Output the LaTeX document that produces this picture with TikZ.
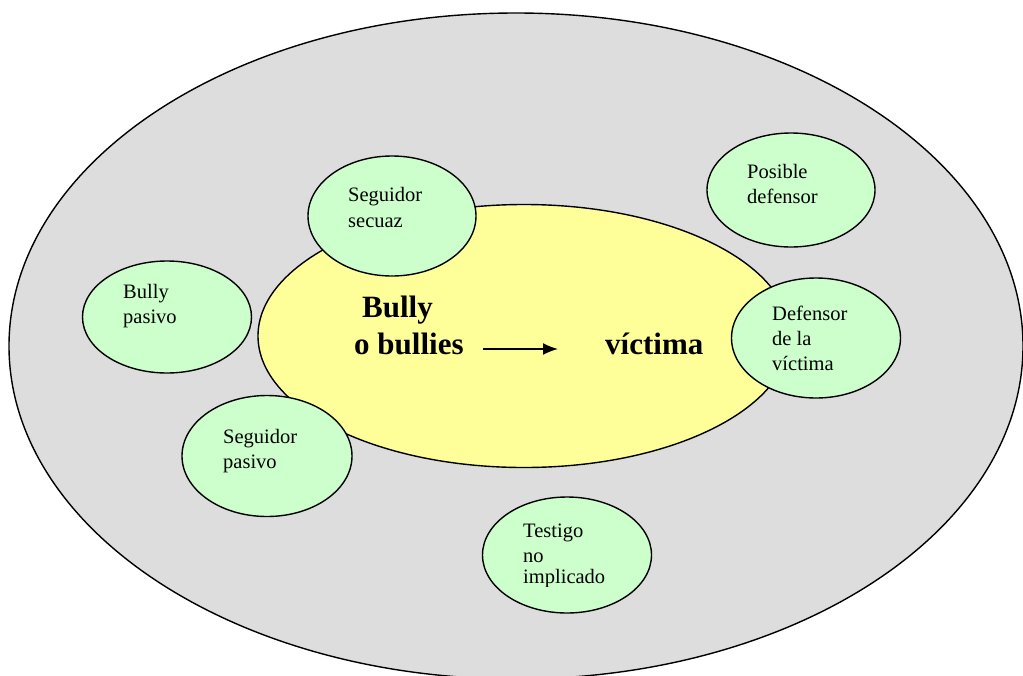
\documentclass[tikz,border=0pt]{standalone}
\usepackage{fontspec}
\setmainfont{Liberation Serif}
\usetikzlibrary{shapes.geometric,arrows.meta}
\definecolor{outerfill}{HTML}{DDDDDD}
\definecolor{corefill}{HTML}{FFFF99}
\definecolor{rolefill}{HTML}{CCFFCC}
\tikzset{
  blob/.style={ellipse,draw=black,line width=1.4pt,inner sep=0pt},
  rolebox/.style={blob,fill=rolefill,minimum width=168pt,minimum height=116pt},
  roletext/.style={anchor=base west,inner sep=0pt,font=\fontsize{20.5}{24}\selectfont},
  coretext/.style={anchor=base west,inner sep=0pt,font=\fontsize{31}{36}\selectfont\bfseries},
}
\begin{document}
\begin{tikzpicture}[x=1pt,y=-1pt]
\useasboundingbox (0,0) rectangle (1023,675);
\begin{scope}
\clip (0,0) rectangle (1023,675);
\node[blob,fill=outerfill,minimum width=1014pt,minimum height=666pt] (outer) at (516,346) {};
\end{scope}
\node[blob,fill=corefill,minimum width=532pt,minimum height=263pt] (core) at (524,336) {};
% role ellipses
\node[rolebox,minimum height=120pt] (secuaz) at (392,216) {};
\node[rolebox,minimum height=114pt] (posible) at (791,190) {};
\node[rolebox,minimum width=169pt,minimum height=120pt] (defensor) at (816,338) {};
\node[rolebox,minimum width=169pt,minimum height=112pt] (bpasivo) at (167,317) {};
\node[rolebox,minimum width=170pt,minimum height=121pt] (spasivo) at (267,456) {};
\node[rolebox,minimum width=169pt,minimum height=116pt] (testigo) at (567,555) {};
% role texts
\node[roletext] (t1a) at (348,201) {Seguidor};
\node[roletext] (t1b) at (348,227) {secuaz};
\node[roletext] (t2a) at (747,178) {Posible};
\node[roletext] (t2b) at (747,203) {defensor};
\node[roletext] (t3a) at (772,320) {Defensor};
\node[roletext] (t3b) at (772,345) {de la};
\node[roletext] (t3c) at (772,370) {víctima};
\node[roletext] (t4a) at (123,298) {Bully};
\node[roletext] (t4b) at (123,323) {pasivo};
\node[roletext] (t5a) at (223,443) {Seguidor};
\node[roletext] (t5b) at (223,468) {pasivo};
\node[roletext] (t6a) at (523,537) {Testigo};
\node[roletext] (t6b) at (523,562) {no};
\begin{scope}
\clip (480,500) rectangle (660,586);
\node[roletext] (t6c) at (523,583) {implicado};
\end{scope}
% core texts
\node[coretext] (bully) at (362,317) {Bully};
\node[coretext] (bullies) at (354,354) {o bullies};
\node[coretext] (victima) at (605,354) {víctima};
\coordinate (a1) at (483,349);
\coordinate (a2) at (558,349);
\draw[line width=1.6pt,-{Latex[length=15pt,width=12pt]}] (a1) -- (a2);
\end{tikzpicture}
\end{document}
